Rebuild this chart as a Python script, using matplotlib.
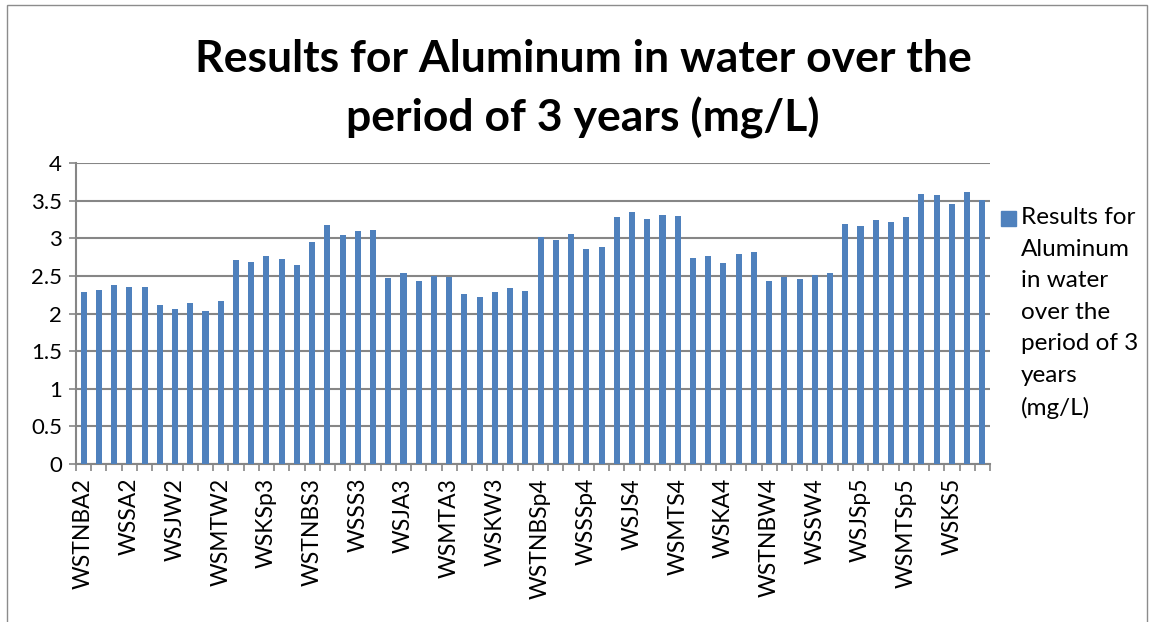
"""Bar chart: aluminum in water, 60 samples over 3 years."""
import matplotlib
matplotlib.use("Agg")
import matplotlib.pyplot as plt
from matplotlib.patches import Rectangle
import numpy as np

plt.rcParams["font.family"] = ["Lato", "DejaVu Sans"]

seasons = ["A2", "W2", "Sp3", "S3", "A3", "W3", "Sp4", "S4", "A4", "W4", "Sp5", "S5"]
sites = ["TNB", "J", "K", "S", "MT"]
categories = [f"WS{s}{p}" for p in seasons for s in sites]

values = [
    2.29, 2.31, 2.38, 2.35, 2.35, 2.11, 2.06, 2.14, 2.03, 2.17,
    2.71, 2.69, 2.77, 2.73, 2.65, 2.95, 3.17, 3.04, 3.09, 3.11,
    2.47, 2.54, 2.43, 2.50, 2.49, 2.26, 2.22, 2.29, 2.34, 2.30,
    3.01, 2.98, 3.05, 2.86, 2.89, 3.28, 3.35, 3.25, 3.31, 3.29,
    2.74, 2.76, 2.67, 2.79, 2.82, 2.43, 2.48, 2.46, 2.51, 2.54,
    3.19, 3.16, 3.24, 3.22, 3.28, 3.59, 3.57, 3.46, 3.62, 3.51,
]
series_name = "Results for Aluminum in water over the period of 3 years (mg/L)"
legend_text = "Results for\nAluminum\nin water\nover the\nperiod of 3\nyears\n(mg/L)"
yticks = [0, 0.5, 1, 1.5, 2, 2.5, 3, 3.5, 4]

W, H = 1151, 622
BAR = "#4F81BD"
GRID = "#868686"

fig = plt.figure(figsize=(W / 100, H / 100), dpi=100)
ax = fig.add_axes([76 / W, 1 - 464 / H, (990 - 76) / W, (464 - 163) / H])

x = np.arange(len(categories))
ax.bar(x, values, width=0.4, color=BAR, zorder=3)

ax.set_xlim(-0.5, len(categories) - 0.5)
ax.set_ylim(0, 4)
ax.set_yticks(yticks)
ax.set_yticklabels([f"{t:g}" for t in yticks], fontsize=16)
ax.yaxis.grid(True, color=GRID, linewidth=1.5, zorder=0)

ax.set_xticks(x[::3])
ax.set_xticklabels(categories[::3], rotation=90, fontsize=16.5, va="top")
ax.set_xticks(np.arange(-0.5, len(categories)), minor=True)
ax.tick_params(axis="x", which="major", length=0, pad=10)
ax.tick_params(axis="x", which="minor", length=5, width=1.2, color=GRID, direction="out")
ax.tick_params(axis="y", length=5, width=1.2, color=GRID, pad=5)

for side in ["top", "right"]:
    ax.spines[side].set_visible(False)
for side in ["left", "bottom"]:
    ax.spines[side].set_color(GRID)
    ax.spines[side].set_linewidth(1.5)

fig.suptitle("Results for Aluminum in water over the\nperiod of 3 years (mg/L)",
             x=583 / W, y=1 - 39 / H, fontsize=32, fontweight="bold",
             va="top", linespacing=1.52)

# legend
fig.patches.append(Rectangle((1001 / W, 1 - 226 / H), 15 / W, 15 / H,
                             transform=fig.transFigure, color=BAR))
fig.text(1021 / W, 1 - 207 / H, legend_text, fontsize=17.5, va="top",
         ha="left", linespacing=1.62)

# chart area border
fig.patches.append(Rectangle((7 / W, -0.05), (1147 - 7) / W, 1 - 5 / H + 0.05,
                             transform=fig.transFigure, fill=False,
                             edgecolor="#8c8c8c", linewidth=1))

fig.savefig("out.png", dpi=100)
